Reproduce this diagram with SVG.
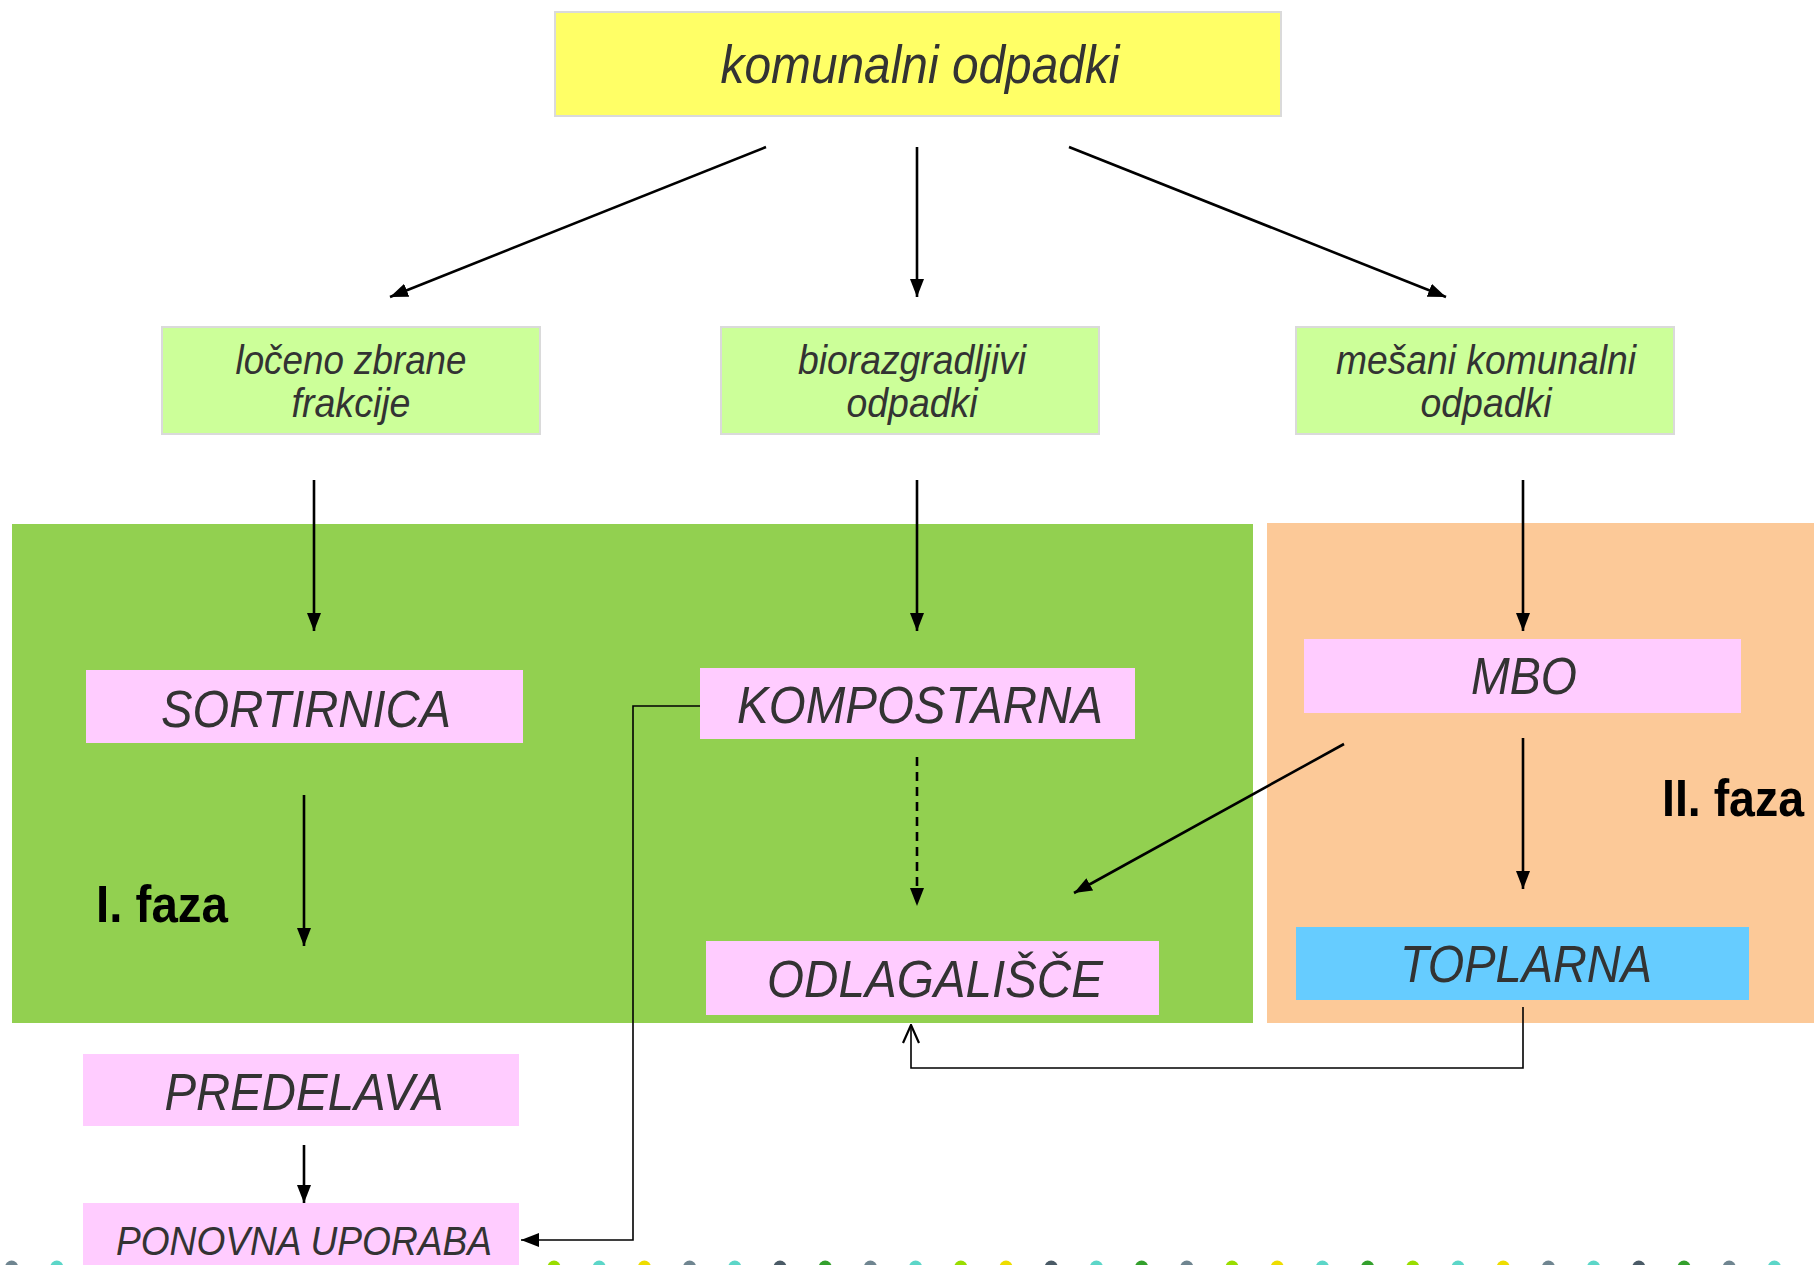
<svg xmlns="http://www.w3.org/2000/svg" width="1814" height="1265" viewBox="0 0 1814 1265">
<defs>
<style>
.t{font-family:"Liberation Sans",Arial,sans-serif;font-style:italic;fill:#333333;text-anchor:middle}
.b{font-family:"Liberation Sans",Arial,sans-serif;font-weight:bold;fill:#000000}
.src{fill:#FFFF66;stroke:#DADADA;stroke-width:2}
.grp{fill:#CCFF99;stroke:#DADADA;stroke-width:2}
.pk{fill:#FFCCFF}
.c{fill:none;stroke:#000000;stroke-width:2.6}
.thin{fill:none;stroke:#000000;stroke-width:1.6}
</style>
<marker id="ah" viewBox="0 0 18 14" refX="18" refY="7" markerWidth="18" markerHeight="14" markerUnits="userSpaceOnUse" orient="auto">
<path d="M0,0 L18,7 L0,14 Z" fill="#000000"/>
</marker>
<marker id="ao" viewBox="0 0 20 20" refX="19" refY="10" markerWidth="20" markerHeight="20" markerUnits="userSpaceOnUse" orient="auto">
<path d="M1,2 L19,10 L1,18" fill="none" stroke="#000000" stroke-width="2.2"/>
</marker>
</defs>
<rect width="1814" height="1265" fill="#FFFFFF"/>
<g id="phase1-area"><rect x="12" y="524" width="1241" height="499" fill="#92D050"/></g>
<g id="phase2-area"><rect x="1267" y="523" width="547" height="500" fill="#FCC998"/></g>
<g id="dots">
<circle cx="11.6" cy="1267" r="6.5" fill="#6F8590"/>
<circle cx="56.8" cy="1267" r="6.5" fill="#5CD6C8"/>
<circle cx="554" cy="1267" r="6.5" fill="#99DD00"/>
<circle cx="599.2" cy="1267" r="6.5" fill="#5CD6C8"/>
<circle cx="644.4" cy="1267" r="6.5" fill="#EEDD00"/>
<circle cx="689.6" cy="1267" r="6.5" fill="#6F8590"/>
<circle cx="734.8" cy="1267" r="6.5" fill="#5CD6C8"/>
<circle cx="780" cy="1267" r="6.5" fill="#4A5A66"/>
<circle cx="825.2" cy="1267" r="6.5" fill="#33A02C"/>
<circle cx="870.4" cy="1267" r="6.5" fill="#6F8590"/>
<circle cx="915.6" cy="1267" r="6.5" fill="#5CD6C8"/>
<circle cx="960.8" cy="1267" r="6.5" fill="#99DD00"/>
<circle cx="1006" cy="1267" r="6.5" fill="#EEDD00"/>
<circle cx="1051.2" cy="1267" r="6.5" fill="#4A5A66"/>
<circle cx="1096.4" cy="1267" r="6.5" fill="#5CD6C8"/>
<circle cx="1141.6" cy="1267" r="6.5" fill="#33A02C"/>
<circle cx="1186.8" cy="1267" r="6.5" fill="#6F8590"/>
<circle cx="1232" cy="1267" r="6.5" fill="#99DD00"/>
<circle cx="1277.2" cy="1267" r="6.5" fill="#EEDD00"/>
<circle cx="1322.4" cy="1267" r="6.5" fill="#5CD6C8"/>
<circle cx="1367.6" cy="1267" r="6.5" fill="#33A02C"/>
<circle cx="1412.8" cy="1267" r="6.5" fill="#99DD00"/>
<circle cx="1458" cy="1267" r="6.5" fill="#5CD6C8"/>
<circle cx="1503.2" cy="1267" r="6.5" fill="#EEDD00"/>
<circle cx="1548.4" cy="1267" r="6.5" fill="#6F8590"/>
<circle cx="1593.6" cy="1267" r="6.5" fill="#5CD6C8"/>
<circle cx="1638.8" cy="1267" r="6.5" fill="#4A5A66"/>
<circle cx="1684" cy="1267" r="6.5" fill="#33A02C"/>
<circle cx="1729.2" cy="1267" r="6.5" fill="#6F8590"/>
<circle cx="1774.4" cy="1267" r="6.5" fill="#5CD6C8"/>
</g>
<g id="connectors">
<line class="c" x1="766" y1="147" x2="390" y2="297" marker-end="url(#ah)"/>
<line class="c" x1="917" y1="147" x2="917" y2="297" marker-end="url(#ah)"/>
<line class="c" x1="1069" y1="147" x2="1446" y2="297" marker-end="url(#ah)"/>
<line class="c" x1="314" y1="480" x2="314" y2="631" marker-end="url(#ah)"/>
<line class="c" x1="917" y1="480" x2="917" y2="631" marker-end="url(#ah)"/>
<line class="c" x1="1523" y1="480" x2="1523" y2="631" marker-end="url(#ah)"/>
<line class="c" x1="304" y1="795" x2="304" y2="946" marker-end="url(#ah)"/>
<line class="c" x1="917" y1="757" x2="917" y2="906" stroke-dasharray="9 6" marker-end="url(#ah)"/>
<line class="c" x1="1344" y1="744" x2="1074" y2="893" marker-end="url(#ah)"/>
<line class="c" x1="1523" y1="738" x2="1523" y2="889" marker-end="url(#ah)"/>
<line class="c" x1="304" y1="1145" x2="304" y2="1203" marker-end="url(#ah)"/>
<polyline class="thin" points="700,706 633,706 633,1240 521,1240" marker-end="url(#ah)"/>
<polyline class="thin" points="1523,1007 1523,1068 911,1068 911,1025" marker-end="url(#ao)"/>
</g>
<g id="komunalni-odpadki"><rect class="src" x="555" y="12" width="726" height="104"/><text class="t" x="920" y="83" font-size="53" textLength="399" lengthAdjust="spacingAndGlyphs">komunalni odpadki</text></g>
<g id="loceno-zbrane"><rect class="grp" x="162" y="327" width="378" height="107"/><text class="t" x="351" y="374" font-size="40" textLength="231" lengthAdjust="spacingAndGlyphs">ločeno zbrane</text><text class="t" x="351" y="417" font-size="40" textLength="119" lengthAdjust="spacingAndGlyphs">frakcije</text></g>
<g id="biorazgradljivi"><rect class="grp" x="721" y="327" width="378" height="107"/><text class="t" x="912" y="374" font-size="40" textLength="228" lengthAdjust="spacingAndGlyphs">biorazgradljivi</text><text class="t" x="912" y="417" font-size="40" textLength="131" lengthAdjust="spacingAndGlyphs">odpadki</text></g>
<g id="mesani"><rect class="grp" x="1296" y="327" width="378" height="107"/><text class="t" x="1486" y="374" font-size="40" textLength="300" lengthAdjust="spacingAndGlyphs">mešani komunalni</text><text class="t" x="1486" y="417" font-size="40" textLength="131" lengthAdjust="spacingAndGlyphs">odpadki</text></g>
<g id="sortirnica"><rect class="pk" x="86" y="670" width="437" height="73"/><text class="t" x="306" y="727" font-size="52" textLength="290" lengthAdjust="spacingAndGlyphs">SORTIRNICA</text></g>
<g id="kompostarna"><rect class="pk" x="700" y="668" width="435" height="71"/><text class="t" x="920" y="723" font-size="52" textLength="366" lengthAdjust="spacingAndGlyphs">KOMPOSTARNA</text></g>
<g id="odlagalisce"><rect class="pk" x="706" y="941" width="453" height="74"/><text class="t" x="935" y="997" font-size="52" textLength="336" lengthAdjust="spacingAndGlyphs">ODLAGALIŠČE</text></g>
<g id="predelava"><rect class="pk" x="83" y="1054" width="436" height="72"/><text class="t" x="304" y="1110" font-size="52" textLength="279" lengthAdjust="spacingAndGlyphs">PREDELAVA</text></g>
<g id="ponovna-uporaba"><rect class="pk" x="83" y="1203" width="436" height="62"/><text class="t" x="304" y="1255" font-size="41" textLength="376" lengthAdjust="spacingAndGlyphs">PONOVNA UPORABA</text></g>
<g id="mbo"><rect class="pk" x="1304" y="639" width="437" height="74"/><text class="t" x="1524" y="694" font-size="52" textLength="106" lengthAdjust="spacingAndGlyphs">MBO</text></g>
<g id="toplarna"><rect x="1296" y="927" width="453" height="73" fill="#66CCFF"/><text class="t" x="1526" y="982" font-size="52" textLength="252" lengthAdjust="spacingAndGlyphs">TOPLARNA</text></g>
<g id="faza1"><text class="b" x="96" y="922" font-size="52" textLength="132" lengthAdjust="spacingAndGlyphs">I. faza</text></g>
<g id="faza2"><text class="b" x="1662" y="816" font-size="52" textLength="142" lengthAdjust="spacingAndGlyphs">II. faza</text></g>
</svg>
